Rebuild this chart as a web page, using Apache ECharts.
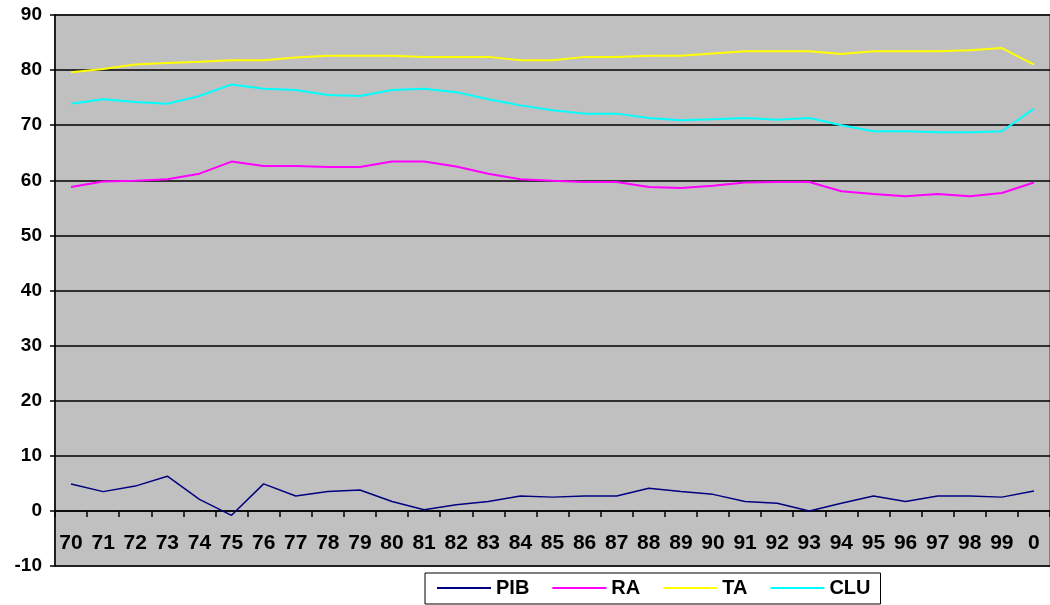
<!DOCTYPE html>
<html>
<head>
<meta charset="utf-8">
<script src="https://cdn.jsdelivr.net/npm/echarts@6/dist/echarts.min.js"></script>
<style>
  html, body { margin: 0; padding: 0; background: #ffffff; }
  #chart { width: 1050px; height: 605px; }
</style>
</head>
<body>
<div id="chart"></div>
<script>
// Years 1970–2000 (the last year shown as "0")
const years = ['70','71','72','73','74','75','76','77','78','79','80','81','82','83','84','85',
               '86','87','88','89','90','91','92','93','94','95','96','97','98','99','0'];

const PIB = [4.9, 3.5, 4.5, 6.3, 2.1, -0.8, 4.9, 2.7, 3.5, 3.8, 1.7, 0.2, 1.1, 1.7, 2.7, 2.5,
             2.7, 2.7, 4.1, 3.5, 3.0, 1.7, 1.4, 0.0, 1.4, 2.7, 1.7, 2.7, 2.7, 2.5, 3.6];

const RA  = [58.8, 59.8, 59.9, 60.2, 61.2, 63.4, 62.6, 62.6, 62.4, 62.4, 63.4, 63.4, 62.5, 61.2, 60.2, 59.9,
             59.7, 59.7, 58.8, 58.6, 59.0, 59.6, 59.7, 59.7, 58.0, 57.5, 57.1, 57.5, 57.1, 57.7, 59.6];

const TA  = [79.6, 80.2, 81.0, 81.3, 81.5, 81.8, 81.8, 82.3, 82.6, 82.6, 82.6, 82.4, 82.4, 82.4, 81.8, 81.8,
             82.4, 82.4, 82.6, 82.6, 83.0, 83.4, 83.4, 83.4, 82.9, 83.4, 83.4, 83.4, 83.6, 84.0, 81.0];

const CLU = [73.9, 74.7, 74.2, 73.9, 75.3, 77.4, 76.6, 76.4, 75.5, 75.3, 76.4, 76.6, 76.0, 74.7, 73.6, 72.7,
             72.1, 72.1, 71.3, 70.9, 71.1, 71.3, 71.0, 71.3, 70.0, 68.9, 68.9, 68.7, 68.7, 68.9, 73.0];

const yMin = -10, yMax = 90, yStep = 10;

const FONT = "'Liberation Sans', Arial, sans-serif";

const chart = echarts.init(document.getElementById('chart'), null, { renderer: 'canvas' });

function lineSeries(name, data, color, width) {
  return {
    name: name,
    type: 'line',
    data: data,
    symbol: 'none',
    smooth: false,
    lineStyle: { color: color, width: width },
    itemStyle: { color: color },
    emphasis: { disabled: true },
    z: 3
  };
}

chart.setOption({
  animation: false,
  backgroundColor: '#ffffff',
  grid: {
    left: 55,
    top: 15,
    width: 1002,
    height: 551,
    show: true,
    backgroundColor: '#C0C0C0',
    borderColor: '#808080',
    borderWidth: 2
  },
  legend: {
    data: ['PIB', 'RA', 'TA', 'CLU'],
    left: 425,
    top: 573,
    orient: 'horizontal',
    icon: 'rect',
    itemWidth: 54,
    itemHeight: 2,
    itemGap: 23,
    padding: [5, 10, 6, 12],
    backgroundColor: '#ffffff',
    borderColor: '#000000',
    borderWidth: 1,
    borderRadius: 0,
    textStyle: { fontFamily: FONT, fontSize: 20, fontWeight: 'bold', color: '#000000' }
  },
  xAxis: {
    type: 'category',
    data: years,
    boundaryGap: true,
    axisLine: { onZero: true, lineStyle: { color: '#000000', width: 1.5 } },
    axisTick: { show: true, inside: false, length: 6, alignWithLabel: false,
                lineStyle: { color: '#000000', width: 1.5 } },
    // year labels sit just under the zero line, inside the plot
    axisLabel: { interval: 0, margin: -33, fontFamily: FONT, fontSize: 21,
                 fontWeight: 'bold', color: '#000000' },
    splitLine: { show: false }
  },
  yAxis: {
    type: 'value',
    min: yMin,
    max: yMax,
    interval: yStep,
    axisLine: { show: true, onZero: false, lineStyle: { color: '#000000', width: 1.5 } },
    axisTick: { show: true, inside: false, length: 5, lineStyle: { color: '#000000', width: 1.5 } },
    axisLabel: { margin: 13, fontFamily: FONT, fontSize: 19, fontWeight: 'bold', color: '#000000' },
    splitLine: { show: true, lineStyle: { color: '#000000', width: 1.5 } }
  },
  series: [
    lineSeries('PIB', PIB, '#000080', 1.5),
    lineSeries('RA', RA, '#FF00FF', 2),
    lineSeries('TA', TA, '#FFFF00', 2),
    lineSeries('CLU', CLU, '#00FFFF', 2)
  ]
});
</script>
</body>
</html>
